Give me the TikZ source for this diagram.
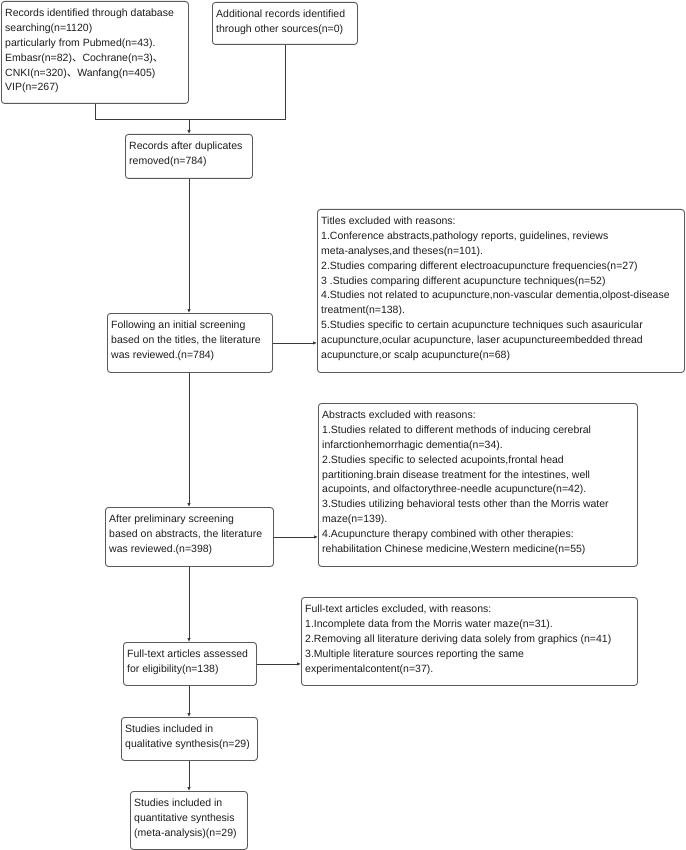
\documentclass[tikz,border=0pt]{standalone}
\usepackage{fontspec}
\setmainfont{Liberation Sans}
\newfontfamily\cjk{Noto Sans CJK SC}
\usetikzlibrary{arrows.meta,calc}
\definecolor{edge}{HTML}{5A5A5A}
\definecolor{wire}{HTML}{3A3A3A}
\definecolor{ink}{HTML}{1E1E1E}
\tikzset{
  box/.style={draw=edge, line width=0.9pt, rounded corners=3pt, inner sep=0pt, fill=white},
  txt/.style={anchor=north west, inner sep=0pt, align=left, text=ink,
    font=\fontsize{10.5}{14.8}\selectfont},
  wirestyle/.style={draw=wire, line width=0.9pt},
  arr/.style={wirestyle, -{Latex[length=4pt,width=3.5pt]}}
}
\newcommand{\mybox}[6]{%
  \node[box, minimum width=#4pt, minimum height=#5pt, anchor=north west] (#1) at (#2,#3) {};
  \node[txt] (#1t) at ($(#1.north west)+(4,8)$) {#6};
}
\newcommand{\dun}{{\cjk 、}}
\begin{document}
\begin{tikzpicture}[x=1pt,y=-1pt]
\useasboundingbox[fill=white] (0,0) rectangle (685,850);

\mybox{b1}{1}{1}{187}{102}{Records identified through database\\searching(n=1120)\\particularly from Pubmed(n=43).\\Embasr(n=82)\dun Cochrane(n=3)\dun\\CNKI(n=320)\dun Wanfang(n=405)\\VIP(n=267)}
\mybox{b2}{212}{2}{145}{42}{Additional records identified\\through other sources(n=0)}
\mybox{b3}{125}{134}{127}{44}{Records after duplicates\\removed(n=784)}
\mybox{b4}{317}{209}{367}{163}{Titles excluded with reasons:\\1.Conference abstracts,pathology reports, guidelines, reviews\\meta-analyses,and theses(n=101).\\2.Studies comparing different electroacupuncture frequencies(n=27)\\3 .Studies comparing different acupuncture techniques(n=52)\\4.Studies not related to acupuncture,non-vascular dementia,olpost-disease\\treatment(n=138).\\5.Studies specific to certain acupuncture techniques such asauricular\\acupuncture,ocular acupuncture, laser acupunctureembedded thread\\acupuncture,or scalp acupuncture(n=68)}
\mybox{b5}{107}{313}{165}{59}{Following an initial screening\\based on the titles, the literature\\was reviewed.(n=784)}
\mybox{b6}{318}{403}{319}{163}{Abstracts excluded with reasons:\\1.Studies related to different methods of inducing cerebral\\infarctionhemorrhagic dementia(n=34).\\2.Studies specific to selected acupoints,frontal head\\partitioning.brain disease treatment for the intestines, well\\acupoints, and olfactorythree-needle acupuncture(n=42).\\3.Studies utilizing behavioral tests other than the Morris water\\maze(n=139).\\4.Acupuncture therapy combined with other therapies:\\rehabilitation Chinese medicine,Western medicine(n=55)}
\mybox{b7}{105}{507}{168}{59}{After preliminary screening\\based on abstracts, the literature\\was reviewed.(n=398)}
\mybox{b8}{301}{597}{336}{88}{Full-text articles excluded, with reasons:\\1.Incomplete data from the Morris water maze(n=31).\\2.Removing all literature deriving data solely from graphics (n=41)\\3.Multiple literature sources reporting the same\\experimentalcontent(n=37).}
\mybox{b9}{123}{642}{133}{43}{Full-text articles assessed\\for eligibility(n=138)}
\mybox{b10}{121}{717}{136}{43}{Studies included in\\qualitative synthesis(n=29)}
\mybox{b11}{130}{791}{117}{58}{Studies included in\\quantitative synthesis\\(meta-analysis)(n=29)}

\coordinate (j) at (189,119);
\draw[wirestyle] (b1.south) |- (j);
\draw[wirestyle] (b2.south) |- (j);
\draw[arr] (j) -- (b3.north -| j);
\draw[arr] (b3.south -| j) -- (b5.north -| j);
\draw[arr] (b5.south -| j) -- (b7.north -| j);
\draw[arr] (b7.south -| j) -- (b9.north -| j);
\draw[arr] (b9.south -| j) -- (b10.north -| j);
\draw[arr] (b10.south -| j) -- (b11.north -| j);
\draw[arr] (b5.east) -- (b5.east -| b4.west);
\draw[arr] (b7.east) -- (b7.east -| b6.west);
\draw[arr] (b9.east) -- (b9.east -| b8.west);
\end{tikzpicture}
\end{document}
